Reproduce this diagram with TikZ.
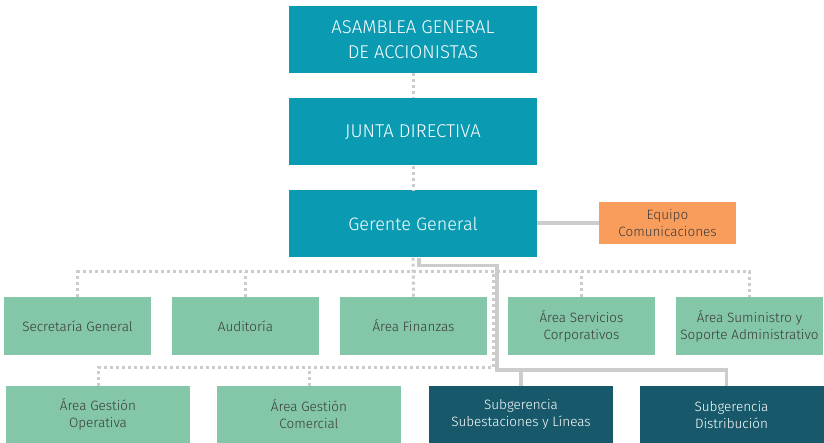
\documentclass[tikz,border=0pt]{standalone}
\usepackage{fontspec}
\setmainfont{Fira Sans Light}
\usepackage{xcolor}
\usetikzlibrary{positioning}

\definecolor{topteal}{HTML}{0A9BB2}
\definecolor{areagreen}{HTML}{84C6A8}
\definecolor{subdark}{HTML}{17596A}
\definecolor{teamorange}{HTML}{F99D5D}
\definecolor{linkgray}{HTML}{CCCCCC}
\definecolor{textdark}{HTML}{3A3A3A}

\begin{document}
\begin{tikzpicture}[
    x=1pt, y=-1pt,
    topbox/.style={rectangle, fill=topteal, text=white, inner sep=0pt, align=center,
        minimum width=248pt, minimum height=67pt, font=\fontsize{18.5}{25}\selectfont},
    areabox/.style={rectangle, fill=areagreen, text=textdark, inner sep=0pt, align=center,
        minimum width=147pt, minimum height=58pt, font=\fontsize{13.5}{17}\selectfont},
    lowbox/.style={areabox, minimum width=184pt, minimum height=57pt},
    subbox/.style={lowbox, fill=subdark, text=white},
    teambox/.style={rectangle, fill=teamorange, text=textdark, inner sep=0pt, align=center,
        minimum width=137pt, minimum height=42pt, font=\fontsize{13.5}{17}\selectfont},
    dotlink/.style={draw=linkgray, line width=3pt, dash pattern=on 3pt off 3pt},
    solidlink/.style={draw=linkgray, line width=3.5pt}
]
    \useasboundingbox (0,0) rectangle (824,443);

    \coordinate (dotjoin) at (493,272);
    \coordinate (solidjoin) at (497,370);

    \node[topbox] (asamblea) at (413,39.5) {ASAMBLEA GENERAL\\DE ACCIONISTAS};
    \node[topbox] (junta) at (413,132) {JUNTA DIRECTIVA};
    \node[topbox, font=\fontsize{18}{25}\selectfont] (gerente) at (413,224) {Gerente General};
    \node[teambox] (equipo) at (667.5,223) {Equipo\\Comunicaciones};

    \node[areabox] (secre) at (77.5,326) {Secretaría General};
    \node[areabox] (audi) at (245.5,326) {Auditoría};
    \node[areabox] (finan) at (413.5,326) {Área Finanzas};
    \node[areabox] (servi) at (581.5,326) {Área Servicios\\Corporativos};
    \node[areabox] (sumin) at (749.5,326) {Área Suministro y\\Soporte Administrativo};

    \node[lowbox] (opera) at (98,414.5) {Área Gestión\\Operativa};
    \node[lowbox] (comer) at (309,414.5) {Área Gestión\\Comercial};
    \node[subbox] (subest) at (521,414.5) {Subgerencia\\Subestaciones y Líneas};
    \node[subbox] (distri) at (731.5,414.5) {Subgerencia\\Distribución};

    % dotted links
    \draw[dotlink] (asamblea) -- (junta);
    \draw[dotlink] (junta) -- (gerente);
    \draw[dotlink] (gerente) -- (finan);
    \draw[dotlink] (secre.north) -- ++(0,-25) -| (sumin.north);
    \draw[dotlink] (audi.north) -- ++(0,-25);
    \draw[dotlink] (servi.north) -- ++(0,-25);
    \draw[dotlink] (opera.north) -- ++(0,-18) -| (dotjoin);
    \draw[dotlink] (comer.north) -- ++(0,-18);

    % solid links
    \draw[solidlink] (gerente.east |- equipo.west) -- (equipo.west);
    \draw[solidlink] ([xshift=6pt]gerente.south) -- ++(0,8) -| (solidjoin) -| ([xshift=-5pt]distri.north);
    \draw[solidlink] (solidjoin -| subest.north) -- (subest.north);
\end{tikzpicture}
\end{document}
